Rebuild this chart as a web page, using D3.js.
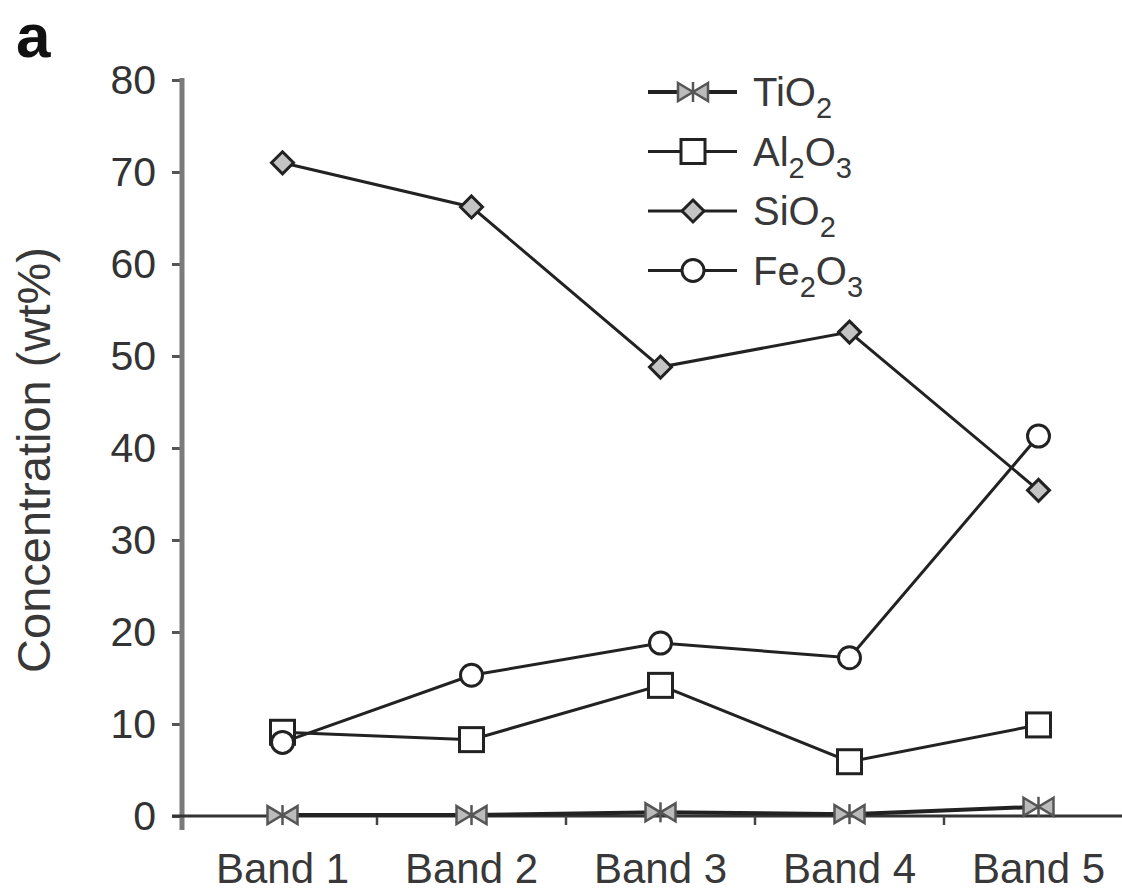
<!DOCTYPE html>
<html>
<head>
<meta charset="utf-8">
<script src="https://cdn.jsdelivr.net/npm/d3@7"></script>
<style>
  body { margin: 0; background: #fff; }
  svg { display: block; font-family: 'Liberation Sans', Arial, sans-serif; }
  .tick text { fill: #333; }
</style>
</head>
<body>
<svg width="1122" height="891"></svg>
<script>
const bands = ['Band 1', 'Band 2', 'Band 3', 'Band 4', 'Band 5'];
const yTicks = [0, 10, 20, 30, 40, 50, 60, 70, 80];
const tio2 = [0.1, 0.1, 0.4, 0.2, 1.0];
const al2o3 = [9.1, 8.3, 14.2, 5.9, 9.9];
const sio2 = [71.0, 66.2, 48.8, 52.6, 35.4];
const fe2o3 = [8.0, 15.3, 18.8, 17.2, 41.3];
// legend labels split into [text, isSubscript] parts
const seriesNames = [
  [['TiO', 0], ['2', 1]],
  [['Al', 0], ['2', 1], ['O', 0], ['3', 1]],
  [['SiO', 0], ['2', 1]],
  [['Fe', 0], ['2', 1], ['O', 0], ['3', 1]]
];
const seriesValues = [tio2, al2o3, sio2, fe2o3];
const seriesMarks = ['bowtie', 'square', 'diamond', 'circle'];

const svg = d3.select('svg'),
    lineColor = '#222';

const x = d3.scaleBand().domain(bands).range([188, 1133]).paddingInner(0).paddingOuter(0);
const y = d3.scaleLinear().domain([0, 80]).range([816, 80]);
const cx = function(b) { return x(b) + x.bandwidth() / 2; };

// panel letter
svg.append('text')
  .attr('x', 16).attr('y', 57)
  .attr('font-size', 62).attr('font-weight', 'bold').attr('fill', '#111')
  .text('a');

// y axis
const yAxis = svg.append('g')
  .attr('transform', 'translate(182,0)')
  .call(d3.axisLeft(y).tickValues(yTicks).tickSize(10).tickPadding(16));
yAxis.select('.domain').remove();
yAxis.selectAll('.tick line').attr('stroke', '#555').attr('stroke-width', 3);
yAxis.selectAll('.tick text').attr('font-size', 41).attr('fill', '#383838').attr('font-family', "'Liberation Sans', Arial, sans-serif");
svg.append('line')
  .attr('x1', 182).attr('x2', 182).attr('y1', y(80) - 2).attr('y2', 830)
  .attr('stroke', '#7a7a7a').attr('stroke-width', 5);

svg.append('text')
  .attr('transform', 'translate(50,' + 460 + ') rotate(-90)')
  .attr('text-anchor', 'middle')
  .attr('font-size', 47).attr('fill', '#383838')
  .text('Concentration (wt%)');

// x axis
svg.append('line')
  .attr('x1', 172).attr('x2', 1122).attr('y1', y(0)).attr('y2', y(0))
  .attr('stroke', '#333').attr('stroke-width', 3);
svg.selectAll('.xtick')
  .data(bands.slice(1))
  .enter().append('line')
    .attr('class', 'xtick')
    .attr('x1', function(d) { return x(d); })
    .attr('x2', function(d) { return x(d); })
    .attr('y1', y(0)).attr('y2', y(0) + 9)
    .attr('stroke', '#444').attr('stroke-width', 2.5);
svg.selectAll('.xlabel')
  .data(bands)
  .enter().append('text')
    .attr('class', 'xlabel')
    .attr('x', cx)
    .attr('y', 883)
    .attr('text-anchor', 'middle')
    .attr('font-size', 42).attr('fill', '#383838')
    .text(function(d) { return d; });

function drawMark(g, type) {
  if (type === 'circle') {
    g.append('circle').attr('r', 11).attr('fill', '#fff').attr('stroke', lineColor).attr('stroke-width', 3);
  } else if (type === 'square') {
    g.append('rect').attr('x', -12).attr('y', -12).attr('width', 24).attr('height', 24)
      .attr('fill', '#fff').attr('stroke', lineColor).attr('stroke-width', 3);
  } else if (type === 'diamond') {
    g.append('path').attr('d', 'M0,-11L11,0L0,11L-11,0Z')
      .attr('fill', '#c4c4c4').attr('stroke', lineColor).attr('stroke-width', 3);
  } else {
    g.append('path').attr('d', 'M-15,-9L0,0L-15,9ZM15,-9L0,0L15,9Z')
      .attr('fill', '#bbb').attr('stroke', '#555').attr('stroke-width', 2.5);
    g.append('line').attr('x1', 0).attr('x2', 0).attr('y1', -10).attr('y2', 10)
      .attr('stroke', '#555').attr('stroke-width', 2.5);
  }
}

const line = d3.line()
  .x(function(d, i) { return cx(bands[i]); })
  .y(function(d) { return y(d); });

seriesValues.forEach(function(vals, s) {
  svg.append('path')
    .datum(vals)
    .attr('d', line)
    .attr('fill', 'none')
    .attr('stroke', lineColor)
    .attr('stroke-width', s === 0 ? 4 : 3);
});

seriesValues.forEach(function(vals, s) {
  vals.forEach(function(v, i) {
    const g = svg.append('g').attr('transform', 'translate(' + cx(bands[i]) + ',' + y(v) + ')');
    drawMark(g, seriesMarks[s]);
  });
});

// legend
const legend = svg.append('g').attr('transform', 'translate(648,92)');
seriesNames.forEach(function(parts, s) {
  const row = legend.append('g').attr('transform', 'translate(0,' + s * 59.5 + ')');
  row.append('line').attr('x1', 0).attr('x2', 89).attr('y1', 0).attr('y2', 0)
    .attr('stroke', lineColor).attr('stroke-width', s === 0 ? 4 : 3);
  drawMark(row.append('g').attr('transform', 'translate(45,0)'), seriesMarks[s]);
  const t = row.append('text').attr('x', 105).attr('y', 14).attr('font-size', 40).attr('fill', '#383838');
  parts.forEach(function(p, k) {
    const prev = k > 0 ? parts[k - 1][1] : 0;
    const sp = t.append('tspan').text(p[0]);
    if (p[1]) sp.attr('font-size', 29).attr('dy', 12);
    else if (prev) sp.attr('dy', -12);
  });
});
</script>
</body>
</html>
